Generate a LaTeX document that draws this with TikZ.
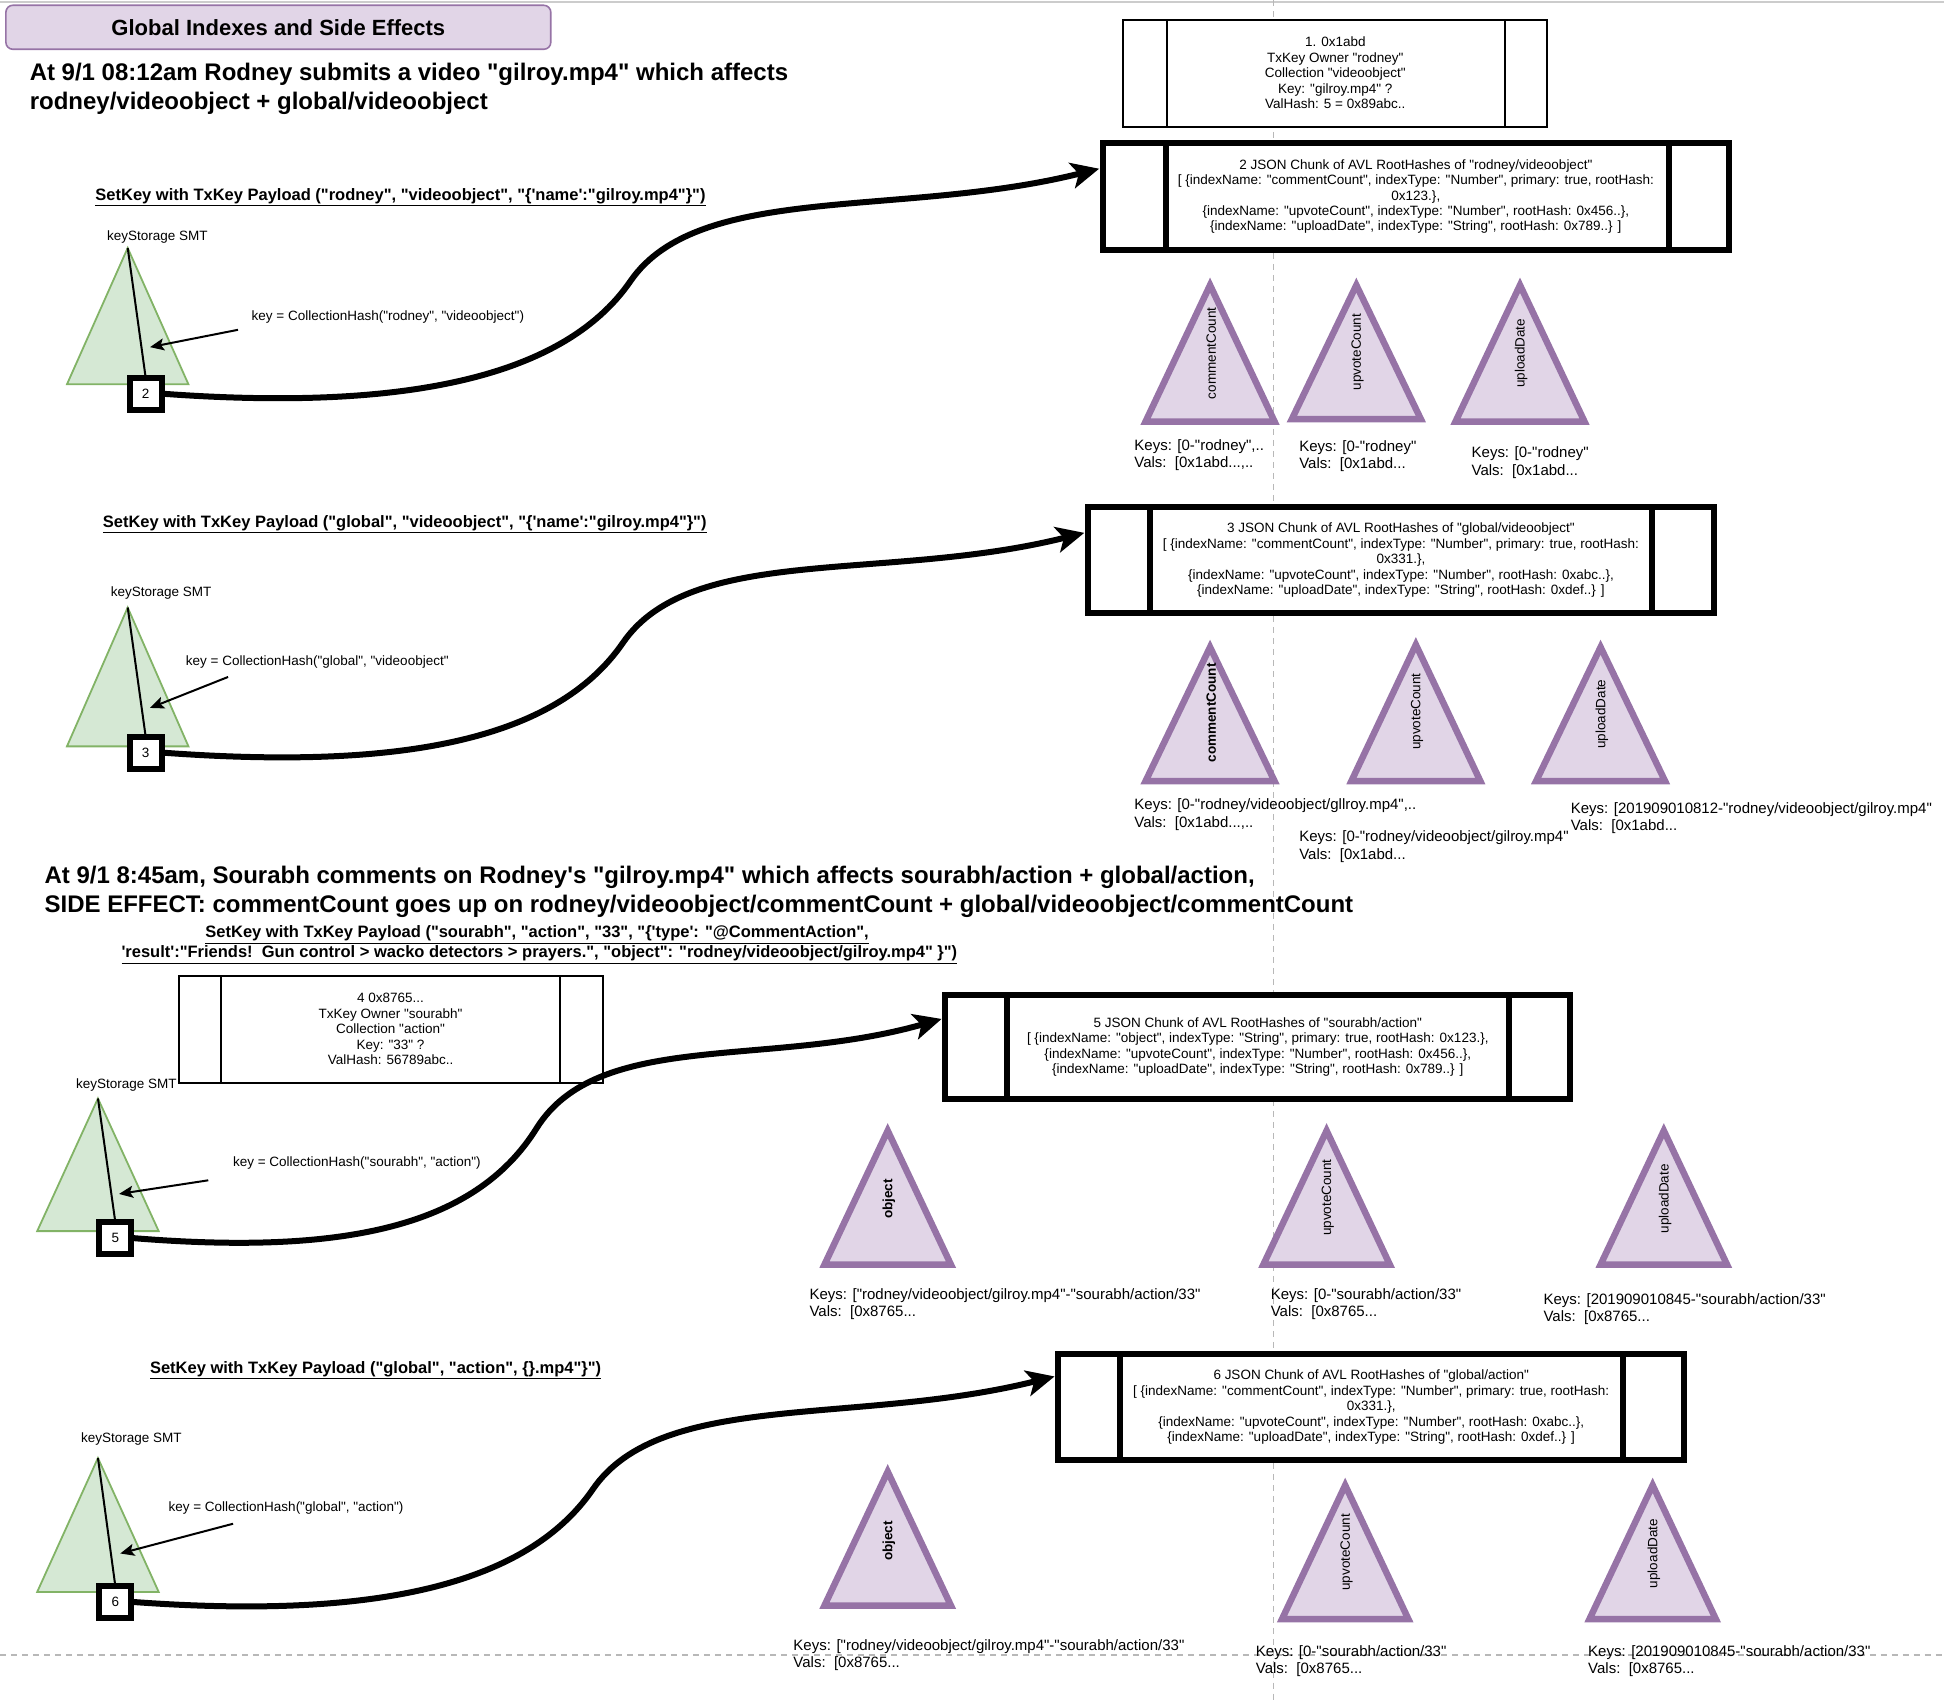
\documentclass[tikz,border=0pt]{standalone}
\usepackage{fontspec}
\setmainfont{Liberation Sans}[Ligatures=TeXOff]
\usetikzlibrary{arrows.meta,calc}
\definecolor{pfill}{HTML}{E1D5E7}
\definecolor{pdraw}{HTML}{9673A6}
\definecolor{gfill}{HTML}{D5E8D4}
\definecolor{gdraw}{HTML}{82B366}
\begin{document}
\begin{tikzpicture}[x=1.24pt,y=-1.24pt,
 every node/.style={inner sep=0pt, outer sep=0pt},
 small/.style={font=\fontsize{13.5}{15.5}\selectfont},
 titlebox/.style={draw=pdraw, fill=pfill, line width=1.6pt, rounded corners=7pt, minimum width=545pt, minimum height=44pt, font=\bfseries\fontsize{22}{26}\selectfont},
 heading/.style={anchor=west, align=left, font=\bfseries\fontsize{24}{29}\selectfont},
 setkey/.style={anchor=west, align=left, font=\bfseries\fontsize{16.5}{20}\selectfont},
 thinbox/.style={draw, fill=white, line width=2pt, align=center, small},
 thickbox/.style={draw, fill=white, line width=6pt, align=center, small},
 smt/.style={draw=gdraw, fill=gfill, line width=1.8pt, line join=miter},
 ptri/.style={draw=pdraw, fill=pfill, line width=6.5pt, line join=miter},
 trilbl/.style={rotate=90, small},
 keylbl/.style={anchor=west, align=left, font=\fontsize{15}{17.5}\selectfont},
 smtlbl/.style={small},
 sqbox/.style={draw, fill=white, line width=6pt, minimum size=32pt, small},
 bigarrow/.style={line width=6pt, -{Stealth[length=28pt,width=26pt,inset=7pt]}},
 keyarrow/.style={line width=2pt, -{Stealth[length=14pt,width=12pt,inset=3pt]}},
 pageline/.style={draw=black!28, line width=1.5pt, dash pattern=on 6pt off 5pt},
 stem/.style={line width=2pt}
]
\useasboundingbox (0,0) rectangle (1568,1373);
% page lines
\draw[black!20, line width=1.5pt] (0,1.5) -- (1568,1.5);
\draw[pageline] (1027,0) -- (1027,1373);
\draw[pageline] (0,1335) -- (1568,1335);

% title and headings
\node[titlebox] (title) at (224.5,22) {Global Indexes and Side Effects};
\node[heading] (h1) at (24,72) {At 9/1 08:12am Rodney submits a video "gilroy.mp4" which affects\\rodney/videoobject + global/videoobject};
\node[heading] (h2) at (36,719.5) {At 9/1 8:45am, Sourabh comments on Rodney's "gilroy.mp4" which affects sourabh/action + global/action,\\SIDE EFFECT: commentCount goes up on rodney/videoobject/commentCount + global/videoobject/commentCount};

% SetKey labels
\node[setkey] (s1) at (77,159) {\underline{SetKey with TxKey Payload ("rodney", "videoobject", "\{'name':"gilroy.mp4"\}")}};
\node[setkey] (s2) at (83,423) {\underline{SetKey with TxKey Payload ("global", "videoobject", "\{'name':"gilroy.mp4"\}")}};
\node[setkey] (s3) at (98,762) {\hspace*{84pt}\underline{SetKey with TxKey Payload ("sourabh", "action", "33", "\{'type': "@CommentAction",}\\{}\underline{'result':"Friends!\ \ Gun control > wacko detectors > prayers.", "object": "rodney/videoobject/gilroy.mp4" \}")}};
\node[setkey] (s4) at (121,1105) {\underline{SetKey with TxKey Payload ("global", "action", \{\}.mp4"\}")}};

% ---------- keyStorage SMT 1
\node[smtlbl] (k1) at (127,191) {keyStorage SMT};
\coordinate (g1) at (103,200);
\draw[smt] (g1) -- (152,310) -- (54,310) -- cycle;
\node[sqbox] (sq2) at (117.5,317.5) {2};
\draw[stem] (g1) -- (sq2.north);
\node[small, anchor=west] (kh1) at (203,256) {key = CollectionHash("rodney", "videoobject")};
\coordinate (ka1) at (192,266);
\coordinate (kb1) at (121,280);
\draw[keyarrow] (ka1) -- (kb1);

% ---------- keyStorage SMT 2
\node[smtlbl] (k2) at (130,478) {keyStorage SMT};
\coordinate (g2) at (103,490);
\draw[smt] (g2) -- (152,602) -- (54,602) -- cycle;
\node[sqbox] (sq3) at (117.5,607) {3};
\draw[stem] (g2) -- (sq3.north);
\node[small, anchor=west] (kh2) at (150,534) {key = CollectionHash("global", "videoobject"};
\coordinate (ka2) at (184,546);
\coordinate (kb2) at (121,571);
\draw[keyarrow] (ka2) -- (kb2);

% ---------- keyStorage SMT 3
\node[smtlbl] (k3) at (102,875) {keyStorage SMT};
\coordinate (g3) at (79,886);
\draw[smt] (g3) -- (128,993) -- (30,993) -- cycle;
\node[sqbox] (sq5) at (93,998.5) {5};
\draw[stem] (g3) -- (sq5.north);
\node[small, anchor=west] (kh3) at (188,938) {key = CollectionHash("sourabh", "action")};
\coordinate (ka3) at (168,952);
\coordinate (kb3) at (96,963);
\draw[keyarrow] (ka3) -- (kb3);

% ---------- keyStorage SMT 4
\node[smtlbl] (k4) at (106,1161) {keyStorage SMT};
\coordinate (g4) at (79,1176);
\draw[smt] (g4) -- (128,1284) -- (30,1284) -- cycle;
\node[sqbox] (sq6) at (93,1292) {6};
\draw[stem] (g4) -- (sq6.north);
\node[small, anchor=west] (kh4) at (136,1216) {key = CollectionHash("global", "action")};
\coordinate (ka4) at (188,1229);
\coordinate (kb4) at (97,1253);
\draw[keyarrow] (ka4) -- (kb4);

% ---------- boxes
\node[thinbox, minimum width=424pt, minimum height=107pt] (b1) at (1077,59) {1. 0x1abd\\TxKey Owner "rodney"\\Collection "videoobject"\\Key: "gilroy.mp4" ?\\ValHash: 5 = 0x89abc..};
\draw[line width=2pt] ($(b1.north west)+(35,0)$) -- ($(b1.south west)+(35,0)$);
\draw[line width=2pt] ($(b1.north east)+(-34,0)$) -- ($(b1.south east)+(-34,0)$);

\node[thickbox, minimum width=626pt, minimum height=107pt] (b2) at (1142,158.5) {2 JSON Chunk of AVL RootHashes of "rodney/videoobject"\\{}[ \{indexName: "commentCount", indexType: "Number", primary: true, rootHash:\\0x123.\},\\\{indexName: "upvoteCount", indexType: "Number", rootHash: 0x456..\},\\\{indexName: "uploadDate", indexType: "String", rootHash: 0x789..\} ]};
\draw[line width=6pt] ($(b2.north west)+(51,0)$) -- ($(b2.south west)+(51,0)$);
\draw[line width=6pt] ($(b2.north east)+(-48,0)$) -- ($(b2.south east)+(-48,0)$);

\node[thickbox, minimum width=626pt, minimum height=106pt] (b3) at (1130,452) {3 JSON Chunk of AVL RootHashes of "global/videoobject"\\{}[ \{indexName: "commentCount", indexType: "Number", primary: true, rootHash:\\0x331.\},\\\{indexName: "upvoteCount", indexType: "Number", rootHash: 0xabc..\},\\\{indexName: "uploadDate", indexType: "String", rootHash: 0xdef..\} ]};
\draw[line width=6pt] ($(b3.north west)+(50,0)$) -- ($(b3.south west)+(50,0)$);
\draw[line width=6pt] ($(b3.north east)+(-50,0)$) -- ($(b3.south east)+(-50,0)$);

\node[thinbox, minimum width=424pt, minimum height=107pt] (b4) at (315,830) {4 0x8765...\\TxKey Owner "sourabh"\\Collection "action"\\Key: "33" ?\\ValHash: 56789abc..};
\draw[line width=2pt] ($(b4.north west)+(34,0)$) -- ($(b4.south west)+(34,0)$);
\draw[line width=2pt] ($(b4.north east)+(-34,0)$) -- ($(b4.south east)+(-34,0)$);

\node[thickbox, minimum width=625pt, minimum height=104pt] (b5) at (1014.5,844.5) {5 JSON Chunk of AVL RootHashes of "sourabh/action"\\{}[ \{indexName: "object", indexType: "String", primary: true, rootHash: 0x123.\},\\\{indexName: "upvoteCount", indexType: "Number", rootHash: 0x456..\},\\\{indexName: "uploadDate", indexType: "String", rootHash: 0x789..\} ]};
\draw[line width=6pt] ($(b5.north west)+(50,0)$) -- ($(b5.south west)+(50,0)$);
\draw[line width=6pt] ($(b5.north east)+(-49,0)$) -- ($(b5.south east)+(-49,0)$);

\node[thickbox, minimum width=626pt, minimum height=106pt] (b6) at (1106,1135) {6 JSON Chunk of AVL RootHashes of "global/action"\\{}[ \{indexName: "commentCount", indexType: "Number", primary: true, rootHash:\\0x331.\},\\\{indexName: "upvoteCount", indexType: "Number", rootHash: 0xabc..\},\\\{indexName: "uploadDate", indexType: "String", rootHash: 0xdef..\} ]};
\draw[line width=6pt] ($(b6.north west)+(50,0)$) -- ($(b6.south west)+(50,0)$);
\draw[line width=6pt] ($(b6.north east)+(-49,0)$) -- ($(b6.south east)+(-49,0)$);

% ---------- big curved arrows
\coordinate (e1) at ($($(b2.north west)!0.24!(b2.south west)$)+(-3,0)$);
\coordinate (e2) at ($($(b3.north west)!0.24!(b3.south west)$)+(-3,0)$);
\coordinate (e3) at ($($(b5.north west)!0.23!(b5.south west)$)+(-3,0)$);
\coordinate (e4) at ($($(b6.north west)!0.21!(b6.south west)$)+(-3,0)$);
\draw[bigarrow] (sq2.east) .. controls +(190,14) and +(-55,80) .. ($(sq2.east)!0.5!(e1)$) .. controls +(55,-80) and +(-160,40) .. (e1);
\draw[bigarrow] (sq3.east) .. controls +(190,14) and +(-55,80) .. ($(sq3.east)!0.5!(e2)$) .. controls +(55,-80) and +(-160,40) .. (e2);
\draw[bigarrow] (sq5.east) .. controls +(170,14) and +(-50,80) .. ($(sq5.east)!0.5!(e3)$) .. controls +(50,-80) and +(-140,40) .. (e3);
\draw[bigarrow] (sq6.east) .. controls +(190,14) and +(-55,80) .. ($(sq6.east)!0.5!(e4)$) .. controls +(55,-80) and +(-160,40) .. (e4);

% ---------- purple index trees, row 1
\draw[ptri] (976,230) -- ++(52,110) -- ++(-104,0) -- cycle;
\node[trilbl] (t11) at (977,285) {commentCount};
\draw[ptri] (1094,230) -- ++(52,108) -- ++(-104,0) -- cycle;
\node[trilbl] (t12) at (1095,284) {upvoteCount};
\draw[ptri] (1226,230) -- ++(52,110) -- ++(-104,0) -- cycle;
\node[trilbl] (t13) at (1227,285) {uploadDate};
\node[keylbl] (l11) at (915,367) {Keys: [0-"rodney",..\\Vals:\ \ [0x1abd...,..};
\node[keylbl] (l12) at (1048,368) {Keys: [0-"rodney"\\Vals:\ \ [0x1abd...};
\node[keylbl] (l13) at (1187,373) {Keys: [0-"rodney"\\Vals:\ \ [0x1abd...};

% row 2
\draw[ptri] (976,522) -- ++(52,108) -- ++(-104,0) -- cycle;
\node[trilbl, font=\bfseries\fontsize{13.5}{15.5}\selectfont] (t21) at (977,575) {commentCount};
\draw[ptri] (1142,520) -- ++(52,110) -- ++(-104,0) -- cycle;
\node[trilbl] (t22) at (1143,574) {upvoteCount};
\draw[ptri] (1291,522) -- ++(52,108) -- ++(-104,0) -- cycle;
\node[trilbl] (t23) at (1292,576) {uploadDate};
\node[keylbl] (l21) at (915,657) {Keys: [0-"rodney/videoobject/gllroy.mp4",..\\Vals:\ \ [0x1abd...,..};
\node[keylbl] (l22) at (1048,683) {Keys: [0-"rodney/videoobject/gilroy.mp4"\\Vals:\ \ [0x1abd...};
\node[keylbl] (l23) at (1267,660) {Keys: [201909010812-"rodney/videoobject/gilroy.mp4"\\Vals:\ \ [0x1abd...};

% row 3
\draw[ptri] (716,912) -- ++(51,108) -- ++(-102,0) -- cycle;
\node[trilbl, font=\bfseries\fontsize{13.5}{15.5}\selectfont] (t31) at (717,967) {object};
\draw[ptri] (1070,912) -- ++(51,108) -- ++(-102,0) -- cycle;
\node[trilbl] (t32) at (1071,966) {upvoteCount};
\draw[ptri] (1342,912) -- ++(51,108) -- ++(-102,0) -- cycle;
\node[trilbl] (t33) at (1343,967) {uploadDate};
\node[keylbl] (l31) at (653,1052) {Keys: ["rodney/videoobject/gilroy.mp4"-"sourabh/action/33"\\Vals:\ \ [0x8765...};
\node[keylbl] (l32) at (1025,1052) {Keys: [0-"sourabh/action/33"\\Vals:\ \ [0x8765...};
\node[keylbl] (l33) at (1245,1056) {Keys: [201909010845-"sourabh/action/33"\\Vals:\ \ [0x8765...};

% row 4
\draw[ptri] (716,1187) -- ++(51,108) -- ++(-102,0) -- cycle;
\node[trilbl, font=\bfseries\fontsize{13.5}{15.5}\selectfont] (t41) at (717,1243) {object};
\draw[ptri] (1085,1198) -- ++(51,108) -- ++(-102,0) -- cycle;
\node[trilbl] (t42) at (1086,1252) {upvoteCount};
\draw[ptri] (1333,1198) -- ++(51,108) -- ++(-102,0) -- cycle;
\node[trilbl] (t43) at (1334,1253) {uploadDate};
\node[keylbl] (l41) at (640,1335) {Keys: ["rodney/videoobject/gilroy.mp4"-"sourabh/action/33"\\Vals:\ \ [0x8765...};
\node[keylbl] (l42) at (1013,1340) {Keys: [0-"sourabh/action/33"\\Vals:\ \ [0x8765...};
\node[keylbl] (l43) at (1281,1340) {Keys: [201909010845-"sourabh/action/33"\\Vals:\ \ [0x8765...};
\end{tikzpicture}
\end{document}
